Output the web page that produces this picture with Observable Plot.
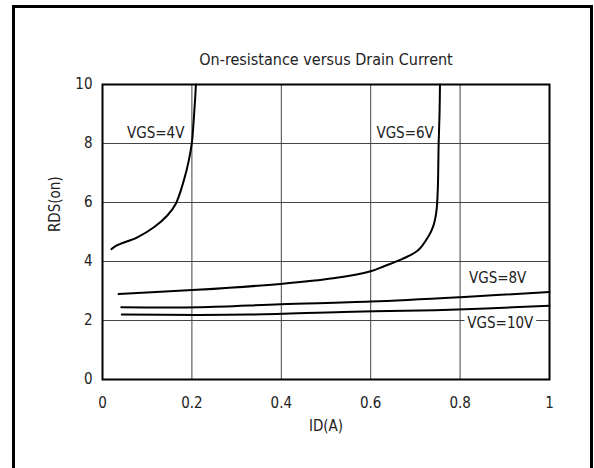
<!DOCTYPE html>
<html><head><meta charset="utf-8">
<script src="https://cdn.jsdelivr.net/npm/d3@7"></script>
<script src="https://cdn.jsdelivr.net/npm/@observablehq/plot@0.6"></script>
<style>
body{margin:0;background:#fff;}
#wrap{position:relative;width:594px;height:468px;overflow:hidden;background:#fff;}
#box{position:absolute;left:12px;top:5px;width:581px;height:490px;border:3px solid #000;box-sizing:border-box}
#chart{position:absolute;left:0;top:0}
</style></head><body>
<div id="wrap"><div id="box"></div><div id="chart"></div></div>
<script>
const titleText = "On-resistance versus Drain Current";
const xLabel = "ID(A)";
const yLabel = "RDS(on)";
const xTicks = [0, 0.2, 0.4, 0.6, 0.8, 1];
const yTicks = [0, 2, 4, 6, 8, 10];

const seriesNames = ["VGS=4V", "VGS=6V", "VGS=8V", "VGS=10V"];
const vgs4X = [0.020, 0.030, 0.040, 0.078, 0.115, 0.145, 0.164, 0.182, 0.193, 0.200, 0.204, 0.207, 0.209];
const vgs4Y = [4.42, 4.53, 4.60, 4.82, 5.16, 5.56, 5.96, 6.75, 7.42, 8.04, 8.78, 9.46, 10.0];
const vgs6X = [0.036, 0.211, 0.398, 0.516, 0.600, 0.630, 0.670, 0.706, 0.729, 0.740, 0.747, 0.750, 0.751, 0.752, 0.754, 0.755];
const vgs6Y = [2.90, 3.04, 3.24, 3.43, 3.67, 3.84, 4.08, 4.38, 4.85, 5.20, 5.70, 6.40, 7.00, 8.00, 9.00, 10.0];
const vgs8X = [0.042, 0.218, 0.398, 0.600, 0.800, 1.000];
const vgs8Y = [2.45, 2.45, 2.55, 2.64, 2.79, 2.97];
const vgs10X = [0.043, 0.330, 0.538, 0.744, 0.858, 1.000];
const vgs10Y = [2.20, 2.20, 2.29, 2.35, 2.41, 2.50];

const labelX = [0.119, 0.677, 0.884, 0.890];
const labelY = [8.34, 8.34, 3.42, 1.90];

const xs = [vgs4X, vgs6X, vgs8X, vgs10X];
const ys = [vgs4Y, vgs6Y, vgs8Y, vgs10Y];
const rows = [];
seriesNames.forEach((s, i) => xs[i].forEach((x, j) => rows.push({series: s, x, y: ys[i][j]})));
const labels = seriesNames.map((s, i) => ({text: s, x: labelX[i], y: labelY[i]}));

const font = "'Liberation Sans Narrow', 'Arial Narrow', 'DejaVu Sans Condensed', 'Liberation Sans', Arial, sans-serif";

const chart = Plot.plot({
  width: 594, height: 468,
  marginLeft: 102, marginRight: 45, marginTop: 84, marginBottom: 89,
  style: {fontFamily: font, fontSize: "15px", background: "transparent", color: "#222"},
  x: {domain: [0, 1], label: null},
  y: {domain: [0, 10], label: null},
  marks: [
    Plot.gridX(xTicks, {stroke: "#444", strokeOpacity: 1, strokeWidth: 1}),
    Plot.gridY(yTicks, {stroke: "#444", strokeOpacity: 1, strokeWidth: 1}),
    Plot.axisX(xTicks, {tickSize: 0, tickPadding: 18, tickFormat: d => String(d), fontSize: 15}),
    Plot.axisY(yTicks, {tickSize: 0, tickPadding: 10, tickFormat: d => String(d), fontSize: 15}),
    Plot.line(rows, {x: "x", y: "y", z: "series", stroke: "black", strokeWidth: 2, curve: "catmull-rom"}),
    Plot.frame({stroke: "black", strokeWidth: 2}),
    Plot.text([titleText], {frameAnchor: "top", lineAnchor: "middle", dy: -25, fontSize: 16, fill: "#222"}),
    Plot.text([xLabel], {frameAnchor: "bottom", lineAnchor: "middle", dy: 47, fontSize: 15, fill: "#222"}),
    Plot.text([yLabel], {frameAnchor: "left", dx: -47, rotate: -90, fontSize: 15, fill: "#222"}),
    Plot.text(labels, {x: "x", y: "y", text: "text", fontSize: 15, fill: "#222", stroke: "white", strokeWidth: 8})
  ]
});
document.getElementById("chart").appendChild(chart);
</script>
</body></html>
